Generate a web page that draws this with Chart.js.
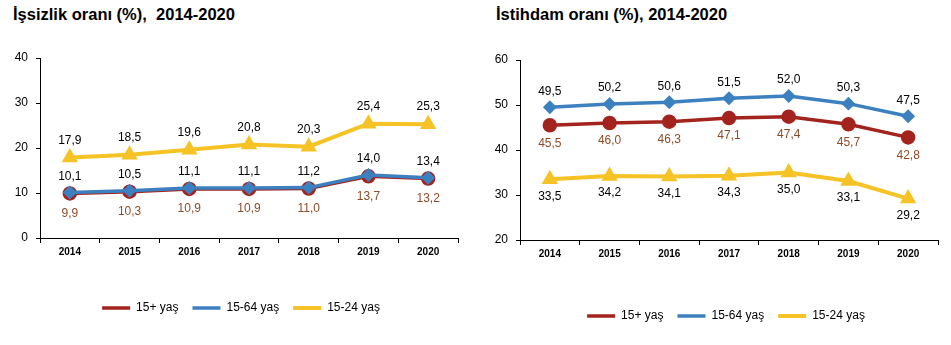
<!DOCTYPE html>
<html>
<head>
<meta charset="utf-8">
<script src="https://cdn.jsdelivr.net/npm/chart.js@4.4.0/dist/chart.umd.min.js"></script>
<style>
  body { margin: 0; background: #fff; width: 951px; height: 345px; position: relative; overflow: hidden; font-family: "Liberation Sans", Arial, sans-serif; }
  .title { position: absolute; top: 5px; font-weight: bold; font-size: 16.5px; white-space: pre; color: #000; }
  .box { position: absolute; top: 0; height: 345px; }
</style>
</head>
<body>
<div class="title" style="left:13px">İşsizlik oranı (%),  2014-2020</div>
<div class="title" style="left:496px">İstihdam oranı (%), 2014-2020</div>
<div class="box" style="left:0;width:475px"><canvas id="unempChart"></canvas></div>
<div class="box" style="left:480px;width:471px"><canvas id="empChart"></canvas></div>
<script>
const years = ['2014', '2015', '2016', '2017', '2018', '2019', '2020'];
const seriesNames = ['15+ yaş', '15-64 yaş', '15-24 yaş'];

// işsizlik oranı
const unemp15 = [9.9, 10.3, 10.9, 10.9, 11.0, 13.7, 13.2];
const unemp1564 = [10.1, 10.5, 11.1, 11.1, 11.2, 14.0, 13.4];
const unemp1524 = [17.9, 18.5, 19.6, 20.8, 20.3, 25.4, 25.3];

// istihdam oranı
const emp15 = [45.5, 46.0, 46.3, 47.1, 47.4, 45.7, 42.8];
const emp1564 = [49.5, 50.2, 50.6, 51.5, 52.0, 50.3, 47.5];
const emp1524 = [33.5, 34.2, 34.1, 34.3, 35.0, 33.1, 29.2];

const red = '#A3231F';
const blue = '#3C80BF';
const yellow = '#F6C326';
const brown = '#8E4B27';

Chart.defaults.font.family = '"Liberation Sans", Arial, sans-serif';
Chart.defaults.color = '#000';

// draws value labels above / below points
const valueLabels = {
  id: 'valueLabels',
  afterDatasetsDraw(chart) {
    const c = chart.ctx;
    c.save();
    c.font = '12px "Liberation Sans", Arial, sans-serif';
    c.textAlign = 'center';
    c.textBaseline = 'middle';
    chart.data.datasets.forEach((ds, i) => {
      const meta = chart.getDatasetMeta(i);
      c.fillStyle = ds.labelColor;
      meta.data.forEach((pt, j) => {
        c.fillText(ds.data[j].toFixed(1).replace('.', ','), pt.x, pt.y + ds.labelDy);
      });
    });
    c.restore();
  }
};

// nudge the legend sideways a bit
function legendShift(dx) {
  return {
    id: 'legendShift',
    afterLayout(chart) {
      chart.legend.left += dx;
      chart.legend.right += dx;
    }
  };
}

function makeDatasets(d15, d1564, d1524, dys) {
  return [
    { label: seriesNames[0], data: d15, borderColor: red, backgroundColor: red, borderWidth: 3.5,
      pointStyle: 'circle', pointRadius: 5.5, order: 1, labelColor: brown, labelDy: dys[0] },
    { label: seriesNames[1], data: d1564, borderColor: blue, backgroundColor: blue, borderWidth: 3.5,
      pointStyle: 'rectRot', pointRadius: 4.5, order: 0, labelColor: '#000', labelDy: dys[1] },
    { label: seriesNames[2], data: d1524, borderColor: yellow, backgroundColor: yellow, borderWidth: 4,
      pointStyle: 'triangle', pointRadius: 5.5, order: 2, labelColor: '#000', labelDy: dys[2] }
  ];
}

function makeConfig(datasets, yMin, yMax, pad, yW, xH, dx) {
  return {
    type: 'line',
    data: { labels: years, datasets: datasets },
    options: {
      responsive: true,
      maintainAspectRatio: false,
      animation: false,
      layout: { padding: pad },
      plugins: {
        tooltip: { enabled: false },
        legend: {
          position: 'bottom',
          labels: {
            usePointStyle: true, pointStyle: 'line', pointStyleWidth: 28, boxHeight: 12,
            padding: 14, font: { size: 12 }, color: '#000',
            sort: (a, b) => a.datasetIndex - b.datasetIndex
          }
        }
      },
      scales: {
        x: {
          offset: true,
          grid: { display: true, drawOnChartArea: false, offset: true, tickLength: 5, color: '#000' },
          border: { color: '#000' },
          ticks: { font: { size: 10, weight: 'bold' }, padding: 3 },
          afterFit: s => { s.height = xH; }
        },
        y: {
          min: yMin, max: yMax,
          grid: { display: true, drawOnChartArea: false, tickLength: 4, color: '#000' },
          border: { color: '#000' },
          ticks: { stepSize: 10, font: { size: 12 }, padding: 8 },
          afterFit: s => { s.width = yW; }
        }
      }
    },
    plugins: [valueLabels, legendShift(dx)]
  };
}

new Chart(document.getElementById('unempChart'),
  makeConfig(makeDatasets(unemp15, unemp1564, unemp1524, [20, -16, -17]), 0, 40,
    { top: 58, right: 17, left: 12, bottom: 21 }, 28, 50, 6));

new Chart(document.getElementById('empChart'),
  makeConfig(makeDatasets(emp15, emp1564, emp1524, [18, -16, 17]), 20, 60,
    { top: 60, right: 13, left: 14, bottom: 13 }, 26, 56, 10));
</script>
</body>
</html>
